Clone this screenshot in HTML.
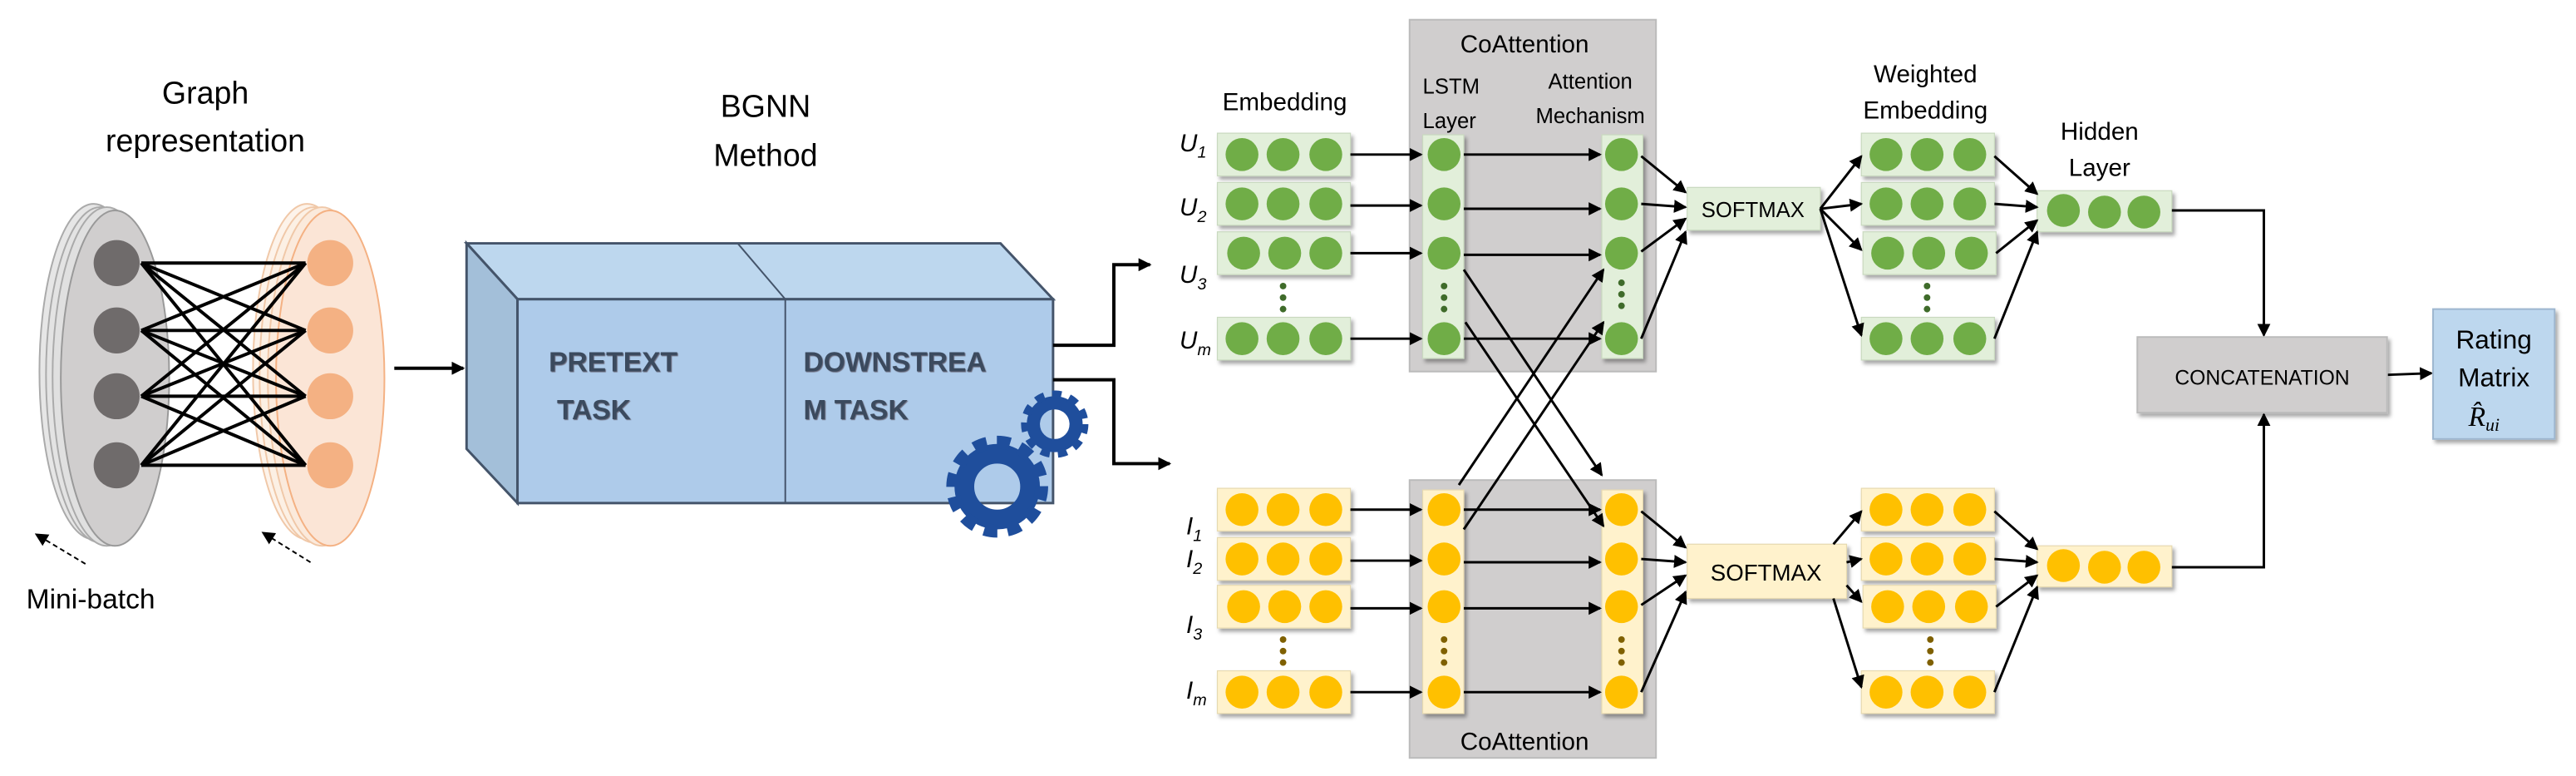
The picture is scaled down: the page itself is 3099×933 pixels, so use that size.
<!DOCTYPE html>
<html><head><meta charset="utf-8"><style>
html,body{margin:0;padding:0;background:#fff}
svg{display:block}
text{font-family:"Liberation Sans",sans-serif}
.s{font-family:"Liberation Serif",serif;font-style:italic}
</style></head><body>
<svg width="3099" height="933" viewBox="0 0 1568 472" preserveAspectRatio="none" xmlns="http://www.w3.org/2000/svg">
<defs>
<marker id="a" markerWidth="8" markerHeight="8" refX="7" refY="4" orient="auto" markerUnits="userSpaceOnUse"><path d="M0,0 L8,4 L0,8 Z" fill="#000"/></marker>
<filter id="sh" x="-10%" y="-20%" width="130%" height="150%"><feDropShadow dx="1.5" dy="2" stdDeviation="1.2" flood-opacity="0.35"/></filter>
</defs>

<!-- Graph representation -->
<text x="125" y="63" font-size="19" text-anchor="middle">Graph</text>
<text x="125" y="92" font-size="19" text-anchor="middle">representation</text>
<g stroke="#aaa" stroke-width="1">
<ellipse cx="57" cy="226" rx="33" ry="102" fill="#e6e6e6"/>
<ellipse cx="61" cy="228" rx="33" ry="102" fill="#e3e3e3"/>
<ellipse cx="65" cy="229" rx="33" ry="103" fill="#e0e0e0"/>
<ellipse cx="70" cy="230" rx="33" ry="102" fill="#d0cece" stroke="#999"/>
</g>
<g stroke="#f0c8a8" stroke-width="1">
<ellipse cx="187" cy="226" rx="33" ry="102" fill="#fdf3ea"/>
<ellipse cx="191" cy="228" rx="33" ry="102" fill="#fcf0e4"/>
<ellipse cx="196" cy="229" rx="33" ry="103" fill="#fbeadc"/>
<ellipse cx="201" cy="230" rx="33" ry="102" fill="#fbe5d6" stroke="#f4b183"/>
</g>
<g fill="#6f6b6b"><circle cx="71" cy="160" r="14"/><circle cx="71" cy="201" r="14"/><circle cx="71" cy="241" r="14"/><circle cx="71" cy="283" r="14"/></g>
<g fill="#f4b183"><circle cx="201" cy="160" r="14"/><circle cx="201" cy="201" r="14"/><circle cx="201" cy="241" r="14"/><circle cx="201" cy="283" r="14"/></g>
<g stroke="#000" stroke-width="2">
<line x1="86" y1="160" x2="186" y2="160"/><line x1="86" y1="160" x2="186" y2="201"/><line x1="86" y1="160" x2="186" y2="241"/><line x1="86" y1="160" x2="186" y2="283"/>
<line x1="86" y1="201" x2="186" y2="160"/><line x1="86" y1="201" x2="186" y2="201"/><line x1="86" y1="201" x2="186" y2="241"/><line x1="86" y1="201" x2="186" y2="283"/>
<line x1="86" y1="241" x2="186" y2="160"/><line x1="86" y1="241" x2="186" y2="201"/><line x1="86" y1="241" x2="186" y2="241"/><line x1="86" y1="241" x2="186" y2="283"/>
<line x1="86" y1="283" x2="186" y2="160"/><line x1="86" y1="283" x2="186" y2="201"/><line x1="86" y1="283" x2="186" y2="241"/><line x1="86" y1="283" x2="186" y2="283"/>
</g>
<g stroke="#000" stroke-width="1" stroke-dasharray="3,2" fill="none">
<line x1="52" y1="343" x2="22" y2="325" marker-end="url(#a)"/>
<line x1="189" y1="342" x2="160" y2="324" marker-end="url(#a)"/>
</g>
<text x="16" y="370" font-size="17">Mini-batch</text>

<line x1="240" y1="224" x2="282" y2="224" stroke="#000" stroke-width="2" marker-end="url(#a)"/>

<!-- BGNN box -->
<text x="466" y="71" font-size="19" text-anchor="middle">BGNN</text>
<text x="466" y="101" font-size="19" text-anchor="middle">Method</text>
<g stroke="#44546a" stroke-width="1.5">
<polygon points="284,148 609,148 641,182 315,182" fill="#bdd7ee"/>
<polygon points="284,148 315,182 315,306 284,273" fill="#a3bfd9"/>
<rect x="315" y="182" width="326" height="124" fill="#aecbea"/>
<line x1="478" y1="182" x2="478" y2="306" stroke-width="1"/>
<line x1="449" y1="148" x2="478" y2="182" stroke-width="1"/>
</g>
<g font-size="17" font-weight="bold" fill="#3b4a5e" style="text-shadow:1px 1px 1px #667">
<text x="334" y="226">PRETEXT</text><text x="339" y="255">TASK</text>
<text x="489" y="226">DOWNSTREA</text><text x="489" y="255">M TASK</text>
</g>
<g fill="none" stroke="#1f4e9c">
<circle cx="607" cy="296" r="20" stroke-width="12"/>
<circle cx="607" cy="296" r="27" stroke-width="8" stroke-dasharray="8,6.1"/>
<circle cx="642" cy="258" r="13" stroke-width="8"/>
<circle cx="642" cy="258" r="18" stroke-width="5" stroke-dasharray="5.5,4.9"/>
</g>
<polyline points="641,210 678,210 678,161 700,161" fill="none" stroke="#000" stroke-width="2" marker-end="url(#a)"/>
<polyline points="641,231 678,231 678,282 712,282" fill="none" stroke="#000" stroke-width="2" marker-end="url(#a)"/>

<!-- CoAttention boxes -->
<rect x="858" y="12" width="150" height="214" fill="#d0cece" stroke="#bbb"/>
<rect x="858" y="292" width="150" height="169" fill="#d0cece" stroke="#bbb"/>
<text x="928" y="32" font-size="15" text-anchor="middle">CoAttention</text>
<text x="928" y="456" font-size="15" text-anchor="middle">CoAttention</text>
<text x="866" y="57" font-size="13">LSTM</text>
<text x="866" y="78" font-size="13">Layer</text>
<text x="968" y="54" font-size="13" text-anchor="middle">Attention</text>
<text x="968" y="75" font-size="13" text-anchor="middle">Mechanism</text>
<text x="782" y="67" font-size="15" text-anchor="middle">Embedding</text>
<text x="1172" y="50" font-size="15" text-anchor="middle">Weighted</text>
<text x="1172" y="72" font-size="15" text-anchor="middle">Embedding</text>
<text x="1278" y="85" font-size="15" text-anchor="middle">Hidden</text>
<text x="1278" y="107" font-size="15" text-anchor="middle">Layer</text>

<!-- U labels -->
<g class="s" font-size="15">
<text x="718" y="92">U<tspan font-size="10" dy="4">1</tspan></text>
<text x="718" y="131">U<tspan font-size="10" dy="4">2</tspan></text>
<text x="718" y="172">U<tspan font-size="10" dy="4">3</tspan></text>
<text x="718" y="212">U<tspan font-size="10" dy="4">m</tspan></text>
<text x="722" y="325">I<tspan font-size="10" dy="4">1</tspan></text>
<text x="722" y="345">I<tspan font-size="10" dy="4">2</tspan></text>
<text x="722" y="385">I<tspan font-size="10" dy="4">3</tspan></text>
<text x="722" y="425">I<tspan font-size="10" dy="4">m</tspan></text>
</g>

<!-- green rows -->
<g filter="url(#sh)" fill="#e2efda" stroke="#c9d9bf" stroke-width="0.6">
<rect x="741" y="81" width="81" height="26"/><rect x="741" y="111" width="81" height="26"/><rect x="741" y="141" width="81" height="26"/><rect x="741" y="193" width="81" height="26"/>
<rect x="1133" y="81" width="81" height="26"/><rect x="1133" y="111" width="81" height="26"/><rect x="1134" y="141" width="81" height="26"/><rect x="1133" y="193" width="81" height="26"/>
<rect x="866" y="82" width="25" height="136"/><rect x="975" y="82" width="25" height="136"/>
<rect x="1240" y="116" width="82" height="25"/>
<rect x="1027" y="114" width="81" height="26"/>
</g>
<g fill="#fff2cc" filter="url(#sh)" stroke="#e6d9b0" stroke-width="0.6">
<rect x="741" y="297" width="81" height="26"/><rect x="741" y="327" width="81" height="26"/><rect x="741" y="356" width="81" height="26"/><rect x="741" y="408" width="81" height="26"/>
<rect x="1133" y="297" width="81" height="26"/><rect x="1133" y="327" width="81" height="26"/><rect x="1134" y="356" width="81" height="26"/><rect x="1133" y="408" width="81" height="26"/>
<rect x="866" y="298" width="25" height="136"/><rect x="975" y="298" width="25" height="136"/>
<rect x="1240" y="332" width="82" height="25"/>
<rect x="1027" y="331" width="97" height="33"/>
</g>
<text x="1067" y="132" font-size="13" text-anchor="middle">SOFTMAX</text>
<text x="1075" y="353" font-size="14" text-anchor="middle">SOFTMAX</text>

<g fill="#70ad47">
<circle cx="756" cy="94" r="10"/><circle cx="781" cy="94" r="10"/><circle cx="807" cy="94" r="10"/>
<circle cx="756" cy="124" r="10"/><circle cx="781" cy="124" r="10"/><circle cx="807" cy="124" r="10"/>
<circle cx="757" cy="154" r="10"/><circle cx="782" cy="154" r="10"/><circle cx="807" cy="154" r="10"/>
<circle cx="756" cy="206" r="10"/><circle cx="781" cy="206" r="10"/><circle cx="807" cy="206" r="10"/>
<circle cx="1148" cy="94" r="10"/><circle cx="1173" cy="94" r="10"/><circle cx="1199" cy="94" r="10"/>
<circle cx="1148" cy="124" r="10"/><circle cx="1173" cy="124" r="10"/><circle cx="1199" cy="124" r="10"/>
<circle cx="1149" cy="154" r="10"/><circle cx="1174" cy="154" r="10"/><circle cx="1200" cy="154" r="10"/>
<circle cx="1148" cy="206" r="10"/><circle cx="1173" cy="206" r="10"/><circle cx="1199" cy="206" r="10"/>
<circle cx="879" cy="94" r="10"/><circle cx="879" cy="124" r="10"/><circle cx="879" cy="154" r="10"/><circle cx="879" cy="206" r="10"/>
<circle cx="987" cy="94" r="10"/><circle cx="987" cy="124" r="10"/><circle cx="987" cy="154" r="10"/><circle cx="987" cy="206" r="10"/>
<circle cx="1256" cy="128" r="10"/><circle cx="1281" cy="129" r="10"/><circle cx="1305" cy="129" r="10"/>
</g>
<g fill="#ffc000">
<circle cx="756" cy="310" r="10"/><circle cx="781" cy="310" r="10"/><circle cx="807" cy="310" r="10"/>
<circle cx="756" cy="340" r="10"/><circle cx="781" cy="340" r="10"/><circle cx="807" cy="340" r="10"/>
<circle cx="757" cy="369" r="10"/><circle cx="782" cy="369" r="10"/><circle cx="807" cy="369" r="10"/>
<circle cx="756" cy="421" r="10"/><circle cx="781" cy="421" r="10"/><circle cx="807" cy="421" r="10"/>
<circle cx="1148" cy="310" r="10"/><circle cx="1173" cy="310" r="10"/><circle cx="1199" cy="310" r="10"/>
<circle cx="1148" cy="340" r="10"/><circle cx="1173" cy="340" r="10"/><circle cx="1199" cy="340" r="10"/>
<circle cx="1149" cy="369" r="10"/><circle cx="1174" cy="369" r="10"/><circle cx="1200" cy="369" r="10"/>
<circle cx="1148" cy="421" r="10"/><circle cx="1173" cy="421" r="10"/><circle cx="1199" cy="421" r="10"/>
<circle cx="879" cy="310" r="10"/><circle cx="879" cy="340" r="10"/><circle cx="879" cy="369" r="10"/><circle cx="879" cy="421" r="10"/>
<circle cx="987" cy="310" r="10"/><circle cx="987" cy="340" r="10"/><circle cx="987" cy="369" r="10"/><circle cx="987" cy="421" r="10"/>
<circle cx="1256" cy="344" r="10"/><circle cx="1281" cy="345" r="10"/><circle cx="1305" cy="345" r="10"/>
</g>
<!-- dots -->
<g fill="#3f6b2a">
<circle cx="781" cy="174" r="2"/><circle cx="781" cy="181" r="2"/><circle cx="781" cy="188" r="2"/>
<circle cx="879" cy="174" r="2"/><circle cx="879" cy="181" r="2"/><circle cx="879" cy="188" r="2"/>
<circle cx="987" cy="172" r="2"/><circle cx="987" cy="179" r="2"/><circle cx="987" cy="186" r="2"/>
<circle cx="1173" cy="174" r="2"/><circle cx="1173" cy="181" r="2"/><circle cx="1173" cy="188" r="2"/>
</g>
<g fill="#7f6000">
<circle cx="781" cy="389" r="2"/><circle cx="781" cy="396" r="2"/><circle cx="781" cy="403" r="2"/>
<circle cx="879" cy="389" r="2"/><circle cx="879" cy="396" r="2"/><circle cx="879" cy="403" r="2"/>
<circle cx="987" cy="389" r="2"/><circle cx="987" cy="396" r="2"/><circle cx="987" cy="403" r="2"/>
<circle cx="1175" cy="389" r="2"/><circle cx="1175" cy="396" r="2"/><circle cx="1175" cy="403" r="2"/>
</g>

<!-- arrows -->
<g stroke="#000" stroke-width="1.5" fill="none" marker-end="url(#a)">
<line x1="822" y1="94" x2="865" y2="94"/><line x1="822" y1="125" x2="865" y2="125"/><line x1="822" y1="154" x2="865" y2="154"/><line x1="822" y1="206" x2="865" y2="206"/>
<line x1="891" y1="94" x2="974" y2="94"/><line x1="891" y1="127" x2="974" y2="127"/><line x1="891" y1="155" x2="974" y2="155"/><line x1="891" y1="206" x2="974" y2="206"/>
<line x1="822" y1="310" x2="865" y2="310"/><line x1="822" y1="341" x2="865" y2="341"/><line x1="822" y1="370" x2="865" y2="370"/><line x1="822" y1="421" x2="865" y2="421"/>
<line x1="891" y1="310" x2="974" y2="310"/><line x1="891" y1="342" x2="974" y2="342"/><line x1="891" y1="370" x2="974" y2="370"/><line x1="891" y1="421" x2="974" y2="421"/>
<line x1="891" y1="164" x2="975" y2="289"/><line x1="892" y1="196" x2="976" y2="320"/>
<line x1="888" y1="295" x2="976" y2="164"/><line x1="891" y1="322" x2="976" y2="196"/>
<line x1="999" y1="95" x2="1026" y2="117"/><line x1="999" y1="124" x2="1026" y2="126"/><line x1="999" y1="153" x2="1026" y2="133"/><line x1="999" y1="206" x2="1026" y2="141"/>
<line x1="999" y1="311" x2="1026" y2="333"/><line x1="999" y1="340" x2="1026" y2="342"/><line x1="999" y1="368" x2="1026" y2="350"/><line x1="999" y1="421" x2="1026" y2="360"/>
<line x1="1108" y1="127" x2="1133" y2="95"/><line x1="1108" y1="127" x2="1133" y2="124"/><line x1="1108" y1="127" x2="1133" y2="152"/><line x1="1108" y1="127" x2="1133" y2="204"/>
<line x1="1116" y1="331" x2="1133" y2="311"/><line x1="1124" y1="342" x2="1133" y2="340"/><line x1="1124" y1="356" x2="1133" y2="366"/><line x1="1116" y1="364" x2="1133" y2="418"/>
<line x1="1214" y1="95" x2="1240" y2="118"/><line x1="1214" y1="124" x2="1240" y2="126"/><line x1="1215" y1="154" x2="1240" y2="134"/><line x1="1214" y1="206" x2="1240" y2="141"/>
<line x1="1214" y1="311" x2="1240" y2="334"/><line x1="1214" y1="340" x2="1240" y2="342"/><line x1="1215" y1="369" x2="1240" y2="350"/><line x1="1214" y1="421" x2="1240" y2="357"/>
<polyline points="1322,128 1378,128 1378,204"/>
<polyline points="1322,345 1378,345 1378,252"/>
<line x1="1453" y1="228" x2="1480" y2="227"/>
</g>

<rect x="1301" y="205" width="152" height="46" fill="#d0cece" stroke="#bbb" filter="url(#sh)"/>
<text x="1377" y="234" font-size="12.5" text-anchor="middle">CONCATENATION</text>
<rect x="1481" y="188" width="74" height="79" fill="#bdd7ee" stroke="#9db6cf" filter="url(#sh)"/>
<text x="1518" y="212" font-size="16" text-anchor="middle">Rating</text>
<text x="1518" y="235" font-size="16" text-anchor="middle">Matrix</text>
<text x="1512" y="259" font-size="17" text-anchor="middle" class="s">R̂<tspan font-size="11" dy="3">ui</tspan></text>
</svg>
</body></html>
